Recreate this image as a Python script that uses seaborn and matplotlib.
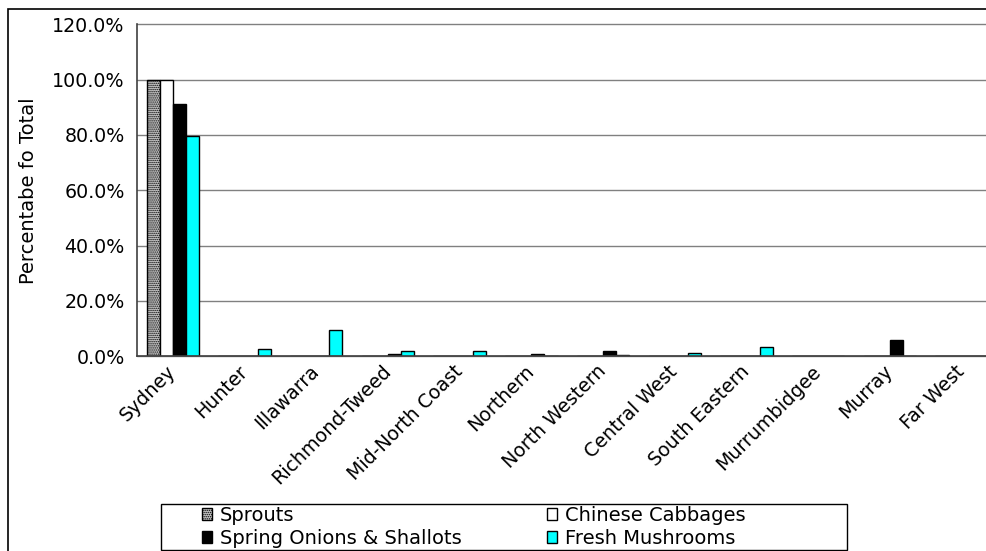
import matplotlib
matplotlib.use("Agg")
import matplotlib.pyplot as plt
from matplotlib.patches import Rectangle, Patch
from matplotlib.ticker import PercentFormatter, FixedLocator
import numpy as np
import pandas as pd
import seaborn as sns

regions = ["Sydney", "Hunter", "Illawarra", "Richmond-Tweed", "Mid-North Coast",
           "Northern", "North Western", "Central West", "South Eastern",
           "Murrumbidgee", "Murray", "Far West"]
series = ["Sprouts", "Chinese Cabbages", "Spring Onions & Shallots", "Fresh Mushrooms"]
sprouts = [1.000, 0, 0, 0, 0, 0, 0, 0, 0, 0, 0, 0]
chinese_cabbages = [1.000, 0, 0, 0, 0, 0, 0, 0, 0, 0, 0, 0]
spring_onions = [0.912, 0, 0, 0.006, 0, 0.006, 0.018, 0, 0, 0, 0.058, 0]
fresh_mushrooms = [0.796, 0.024, 0.093, 0.017, 0.017, 0, 0.005, 0.012, 0.032, 0, 0, 0]

df = pd.DataFrame({
    "Region": regions * 4,
    "Product": np.repeat(series, len(regions)),
    "Share": sprouts + chinese_cabbages + spring_onions + fresh_mushrooms,
})

sns.set_style("white")
plt.rcParams["font.family"] = ["DejaVu Sans"]
plt.rcParams["text.color"] = "black"
plt.rcParams["axes.labelcolor"] = "black"
plt.rcParams["xtick.color"] = "black"
plt.rcParams["ytick.color"] = "black"
plt.rcParams["hatch.color"] = "black"
plt.rcParams["hatch.linewidth"] = 0.7

W, H = 987, 551
fig = plt.figure(figsize=(W / 100, H / 100), dpi=100)

# outer chart border
fig.patches.append(Rectangle((8 / W, -0.1), 1.2, 1 - 9 / H + 0.1, transform=fig.transFigure,
                             fill=False, edgecolor="black", linewidth=1.2))

x0, x1 = 137, 137 + 12 * 71.7
y0, y1 = 356, 24.5
ax = fig.add_axes([x0 / W, 1 - y0 / H, (x1 - x0) / W, (y0 - y1) / H])
ax.patch.set_alpha(0)

fills = ["#c8c8c8", "white", "black", "cyan"]
sprout_hatch = "........"
sns.barplot(data=df, x="Region", y="Share", hue="Product", order=regions,
            hue_order=series, palette=fills, width=0.73, saturation=1,
            edgecolor="black", linewidth=1.0, legend=False, ax=ax)
for bar in ax.containers[0]:
    bar.set_hatch(sprout_hatch)

ax.set_xlim(-0.5, len(regions) - 0.5)
ax.set_ylim(0, 1.2)
ax.set_yticks(np.arange(0, 1.21, 0.2))
ax.yaxis.set_major_formatter(PercentFormatter(1.0, decimals=1))
ax.yaxis.grid(True, color="#808080", linewidth=1.0)
for gl in ax.get_ygridlines():
    gl.set_clip_on(False)
ax.set_axisbelow(True)

ax.set_xticks(range(len(regions)))
ax.set_xticklabels(regions, rotation=45, ha="right", va="center",
                   rotation_mode="anchor", fontsize=13.7)
ax.xaxis.set_minor_locator(FixedLocator(np.arange(-0.5, len(regions), 1)))
ax.tick_params(axis="x", which="major", length=0, pad=9, labelcolor="black")
ax.tick_params(axis="x", which="minor", length=5, width=1, direction="out", color="black")
ax.tick_params(axis="y", length=5, width=1, direction="out", color="black",
               labelsize=13.7, pad=4, labelcolor="black")
ax.set_xlabel("")
ax.set_ylabel("Percentabe fo Total", fontsize=14, color="black")
ax.yaxis.set_label_coords((38 - x0) / (x1 - x0), 0.5)

for side in ["top", "right"]:
    ax.spines[side].set_visible(False)
for side in ["left", "bottom"]:
    ax.spines[side].set_color("#404040")
    ax.spines[side].set_linewidth(1.2)

# legend box
fig.patches.append(Rectangle((161 / W, 1 - 550 / H), (847 - 161) / W, (550 - 504) / H,
                             transform=fig.transFigure, fill=True, facecolor="white",
                             edgecolor="black", linewidth=1.0))
handles = [Patch(facecolor=c, edgecolor="black", linewidth=1.0) for c in fills]
handles[0].set_hatch(sprout_hatch)
order = [0, 2, 1, 3]
leg = fig.legend([handles[i] for i in order], [series[i] for i in order], ncol=2,
                 loc="center left", bbox_to_anchor=(202 / W, 1 - 527 / H),
                 frameon=False, fontsize=14, handlelength=0.52, handleheight=0.52,
                 handletextpad=0.4, columnspacing=4.4, labelspacing=0.2,
                 borderpad=0, borderaxespad=0)
for t in leg.get_texts():
    t.set_color("black")

fig.savefig("out.png", dpi=100)
